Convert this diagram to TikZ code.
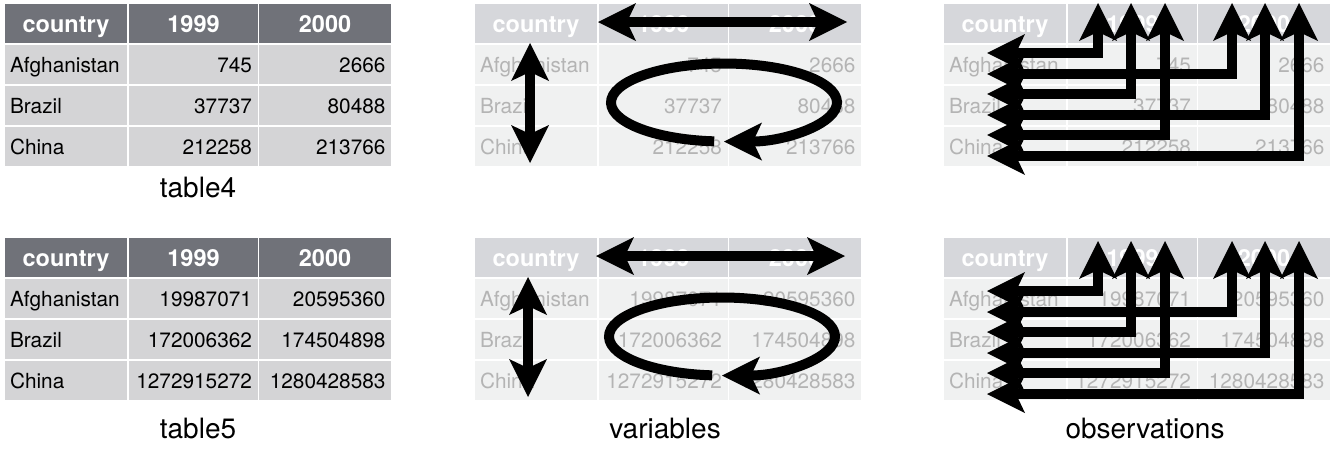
\documentclass[tikz,border=0pt]{standalone}
\usepackage{fontspec}
\setmainfont{TeX Gyre Heros}
\usetikzlibrary{arrows.meta}
\definecolor{headdark}{HTML}{707279}
\definecolor{bodydark}{HTML}{D4D4D6}
\definecolor{headpale}{HTML}{D6D7DB}
\definecolor{bodypale}{HTML}{F0F1F1}
\definecolor{textpale}{HTML}{B4B4B4}
\tikzset{
  cell/.style={
    draw=white, line width=1.5pt, minimum height=41pt,
    inner ysep=0pt, text height=15pt, text depth=0pt
  },
  headcell/.style={
    cell, align=center, text height=17pt,
    font=\fontsize{23.5}{26}\selectfont\bfseries
  },
  namecell/.style={
    cell, align=left, inner xsep=6pt, text width=112pt,
    font=\fontsize{20.8}{24}\selectfont
  },
  numcell/.style={
    cell, align=right,
    font=\fontsize{20.8}{24}\selectfont
  },
  darkhead/.style={fill=headdark, text=white},
  darkbody/.style={fill=bodydark, text=black},
  palehead/.style={fill=headpale, text=white},
  palebody/.style={fill=bodypale, text=textpale},
  caption/.style={anchor=base, font=\fontsize{28}{32}\selectfont},
  fatarrow/.style={line width=10pt, draw=black},
  >={Stealth[length=38pt, width=38pt, inset=9pt, line width=0pt]}
}
% one table: name, top left corner, look (dark/pale), rows
\newcommand{\tidytable}[4]{%
  \begin{scope}[shift={(#2)}]
    \node[headcell, #3head, inner xsep=6pt, text width=112pt] (#1-h0) at (62,20.5) {country};
    \node[headcell, #3head, inner xsep=7pt, text width=117pt] (#1-h1) at (189.5,20.5) {1999};
    \node[headcell, #3head, inner xsep=6pt, text width=121pt] (#1-h2) at (321,20.5) {2000};
    \foreach \r/\cty/\va/\vb in #4 {
      \node[namecell, #3body] (#1-c\r) at (62,20.5+41*\r) {\cty};
      \node[numcell, #3body, inner xsep=7pt, text width=117pt] (#1-a\r) at (189.5,20.5+41*\r) {\va};
      \node[numcell, #3body, inner xsep=6pt, text width=121pt] (#1-b\r) at (321,20.5+41*\r) {\vb};
    }
  \end{scope}}
% arrows for the variables
\newcommand{\vararrows}[2]{%
  \begin{scope}[shift={(#2)}]
    \coordinate (#1-l) at (124,19);
    \coordinate (#1-r) at (373,19);
    \coordinate (#1-t) at (56,40);
    \coordinate (#1-b) at (56,160);
    \coordinate (#1-o) at (250,99.5);
    \draw[fatarrow, <->] (#1-l) -- (#1-r);
    \draw[fatarrow, <->] (#1-t) -- (#1-b);
    \draw[fatarrow, ->] (#1-o) ++(95:113 and 39) arc[start angle=95, end angle=450, x radius=113, y radius=39];
  \end{scope}}
% arrows for the observations
\newcommand{\obsarrows}[2]{%
  \begin{scope}[shift={(#2)}]
    \foreach \k/\xs/\yl in {1/155/53, 2/289/74, 3/188/94, 4/322/115, 5/222/135, 6/356/156} {
      \coordinate (#1-up\k) at (\xs,3);
      \coordinate (#1-in\k) at (44,\yl);
      \draw[fatarrow, <->] (#1-up\k) |- (#1-in\k);
    }
  \end{scope}}
\def\rowsfour{1/Afghanistan/745/2666, 2/Brazil/37737/80488, 3/China/212258/213766}
\def\rowsfive{1/Afghanistan/19987071/20595360, 2/Brazil/172006362/174504898, 3/China/1272915272/1280428583}
\begin{document}
\begin{tikzpicture}[x=1pt, y=-1pt]
  \path[fill=white] (0,0) rectangle (1336,448);
  \useasboundingbox (0,0) rectangle (1336,448);
  % tables
  \tidytable{t4}{4,3}{dark}{\rowsfour}
  \tidytable{t5}{4,237}{dark}{\rowsfive}
  \tidytable{v4}{474,3}{pale}{\rowsfour}
  \tidytable{v5}{474,237}{pale}{\rowsfive}
  \tidytable{o4}{943,3}{pale}{\rowsfour}
  \tidytable{o5}{943,237}{pale}{\rowsfive}
  % arrows
  \vararrows{va4}{474,3}
  \vararrows{va5}{472,237}
  \obsarrows{ob4}{943,0}
  \obsarrows{ob5}{943,238}
  % captions
  \node[caption] (cap4) at (198,197) {table4};
  \node[caption] (cap5) at (198,438) {table5};
  \node[caption] (capv) at (665,438) {variables};
  \node[caption] (capo) at (1145,438) {observations};
\end{tikzpicture}
\end{document}
